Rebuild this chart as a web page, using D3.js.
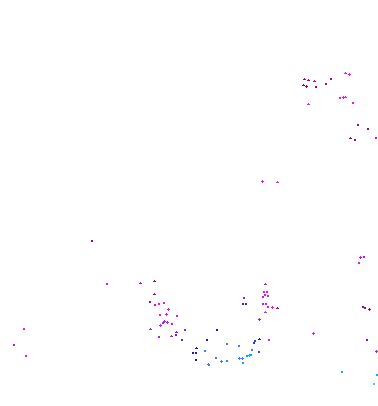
<!DOCTYPE html>
<html><head><meta charset="utf-8">
<script src="https://cdn.jsdelivr.net/npm/d3@7"></script>
<style>html,body{margin:0;padding:0;background:#fff;}</style>
</head><body>
<svg id="c" width="378" height="406"></svg>
<script>
// point positions (chart units), colour values (0..1) and marker kinds
const xs = [304,308,314,331,326,303,306,316,345,349,340,343,345,352.7,308,358,368,350,355,376,262,277,92,107,24,14,26,360,364,359,363,365,369,313,367,376,342,377,374,
140,154,154,150,155,159,164,168,160,166,177,164,167,172,160,163,150,185,217,176,176,159,171,182,207,196,227,264,267,263,265,268,244,243,246,263,266,268,272,277,265,259,265,259,269,239,254,255,193,196,205,252,259,196,216,221,227,239,242,247,249,251,243,208,209];
const ys = [79,80,81,79,84,85,86,87,73,74,98,97,97,102.7,104,125,129,138,140,138,181,182,241,284,329,345,356,257,257,263,307,308,309,333,340,351,372,375,384,
283,281,294,302,305,304,303,309,315,314,316,321,322,324,325,323,329,330,330,332,335,337,336,340,340,348,344,292,292,297,295,296,298,304,304,304,304,307,307,308,312,319,284,339,340,346,343,341,353,353,351,350,352,360,358,361,361,358,358,356,355,355,363,364,365];
const vals = [0.05,0.05,0.15,0.1,0.1,0.05,0.0,0.05,0.25,0.25,0.25,0.25,0.25,0.25,0.25,0.05,0.05,0.05,0.05,0.2,0.25,0.25,0.05,0.22,0.25,0.4,0.25,0.4,0.2,0.25,0.05,0.05,0.05,0.25,0.1,0.4,0.85,0.85,0.97,
0.15,0.05,0.1,0.1,0.2,0.25,0.25,0.25,0.25,0.25,0.35,0.38,0.38,0.4,0.3,0.35,0.4,0.45,0.6,0.45,0.5,0.4,0.4,0.5,0.6,0.6,0.72,0.25,0.25,0.3,0.3,0.25,0.45,0.55,0.55,0.35,0.35,0.25,0.25,0.05,0.25,0.45,0.2,0.6,0.25,0.72,0.65,0.65,0.6,0.6,0.72,0.72,0.45,0.6,0.72,0.72,0.72,0.75,0.75,0.82,0.82,0.82,0.82,0.72,0.72];
const kinds = ["t","t","t","s","s","t","c","s","t","c","s","c","t","s","t","s","s","t","s","s","c","t","s","s","s","s","s","c","s","s","s","s","c","c","s","c","s","s","s",
"t","t","t","s","s","s","s","c","s","c","s","c","c","s","c","s","t","s","s","t","s","s","t","s","s","t","s","s","s","s","s","s","s","s","s","s","s","s","c","t","t","c","t","t","s","s","s","s","s","s","s","s","s","s","s","c","s","c","c","s","c","s","s","c","s"];

const W = 378, H = 406;
const x = d3.scaleLinear().domain([0, 378]).range([0, W]);
const y = d3.scaleLinear().domain([0, 406]).range([0, H]);
const color = d3.scaleLinear()
  .domain([0, 0.12, 0.25, 0.42, 0.6, 0.72, 0.85, 1])
  .range(["#8b0a64", "#c0008c", "#f010f0", "#a020ff", "#1818c0", "#3a7dff", "#00b4ff", "#00ffd8"]);
const symType = {s: d3.symbolSquare, c: d3.symbolCross, t: d3.symbolTriangle};
const symSize = {s: 4, c: 5, t: 4};

const data = xs.map((d, i) => ({x: d, y: ys[i], v: vals[i], k: kinds[i]}));
const svg = d3.select("#c");
svg.selectAll("path.pt").data(data).join("path")
  .attr("class", "pt")
  .attr("transform", d => {
    const px = d.k === "s" ? Math.round(x(d.x)) : Math.floor(x(d.x)) + 0.5;
    const py = d.k === "s" ? Math.round(y(d.y)) : Math.floor(y(d.y)) + 0.5;
    return `translate(${px},${py})`;
  })
  .attr("d", d => d3.symbol().type(symType[d.k]).size(symSize[d.k])())
  .attr("fill", d => color(d.v))
  .attr("shape-rendering", "crispEdges");
</script>
</body></html>
